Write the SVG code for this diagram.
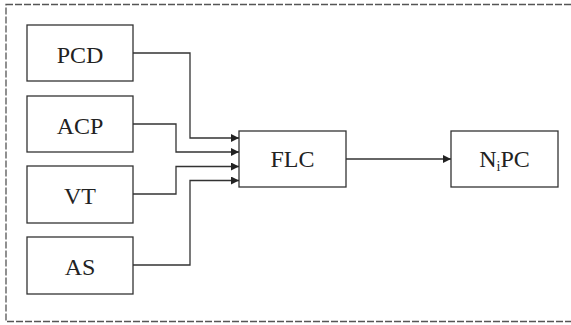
<svg xmlns="http://www.w3.org/2000/svg" width="571" height="325" viewBox="0 0 571 325">
<style>
.box{fill:#fff;stroke:#333;stroke-width:1.3}
.lbl{font-family:"Liberation Serif","Times New Roman",serif;font-size:24px;fill:#222;text-anchor:middle}
.wire{fill:none;stroke:#333;stroke-width:1.3}
</style>
<defs>
<marker id="arr" viewBox="0 0 10 10" refX="10" refY="5" markerWidth="10" markerHeight="8" markerUnits="userSpaceOnUse" orient="auto">
<path d="M0,0 L10,5 L0,10 z" fill="#222"/>
</marker>
</defs>
<rect x="6" y="4.5" width="570" height="317" fill="none" stroke="#555" stroke-width="1.3" stroke-dasharray="7,2"/>
<g id="PCD"><rect class="box" x="27" y="25" width="106" height="56"/><text class="lbl" x="80" y="63">PCD</text></g>
<g id="ACP"><rect class="box" x="27" y="96" width="106" height="56"/><text class="lbl" x="80" y="134">ACP</text></g>
<g id="VT"><rect class="box" x="27" y="166" width="106" height="57"/><text class="lbl" x="80" y="204">VT</text></g>
<g id="AS"><rect class="box" x="27" y="237" width="106" height="57"/><text class="lbl" x="80" y="275">AS</text></g>
<g id="FLC"><rect class="box" x="239" y="131" width="107" height="56"/><text class="lbl" x="292.5" y="167">FLC</text></g>
<g id="NiPC"><rect class="box" x="451" y="131" width="107" height="56"/><text class="lbl" x="504.5" y="167">N<tspan font-size="14" dy="4">i</tspan><tspan dy="-4">PC</tspan></text></g>
<g id="connectors">
<path class="wire" d="M133,53 H190 V138 H239" marker-end="url(#arr)"/>
<path class="wire" d="M133,124 H176 V152 H239" marker-end="url(#arr)"/>
<path class="wire" d="M133,194 H176 V166.5 H239" marker-end="url(#arr)"/>
<path class="wire" d="M133,265 H190 V180.5 H239" marker-end="url(#arr)"/>
<path class="wire" d="M346,159 H451" marker-end="url(#arr)"/>
</g>
</svg>
